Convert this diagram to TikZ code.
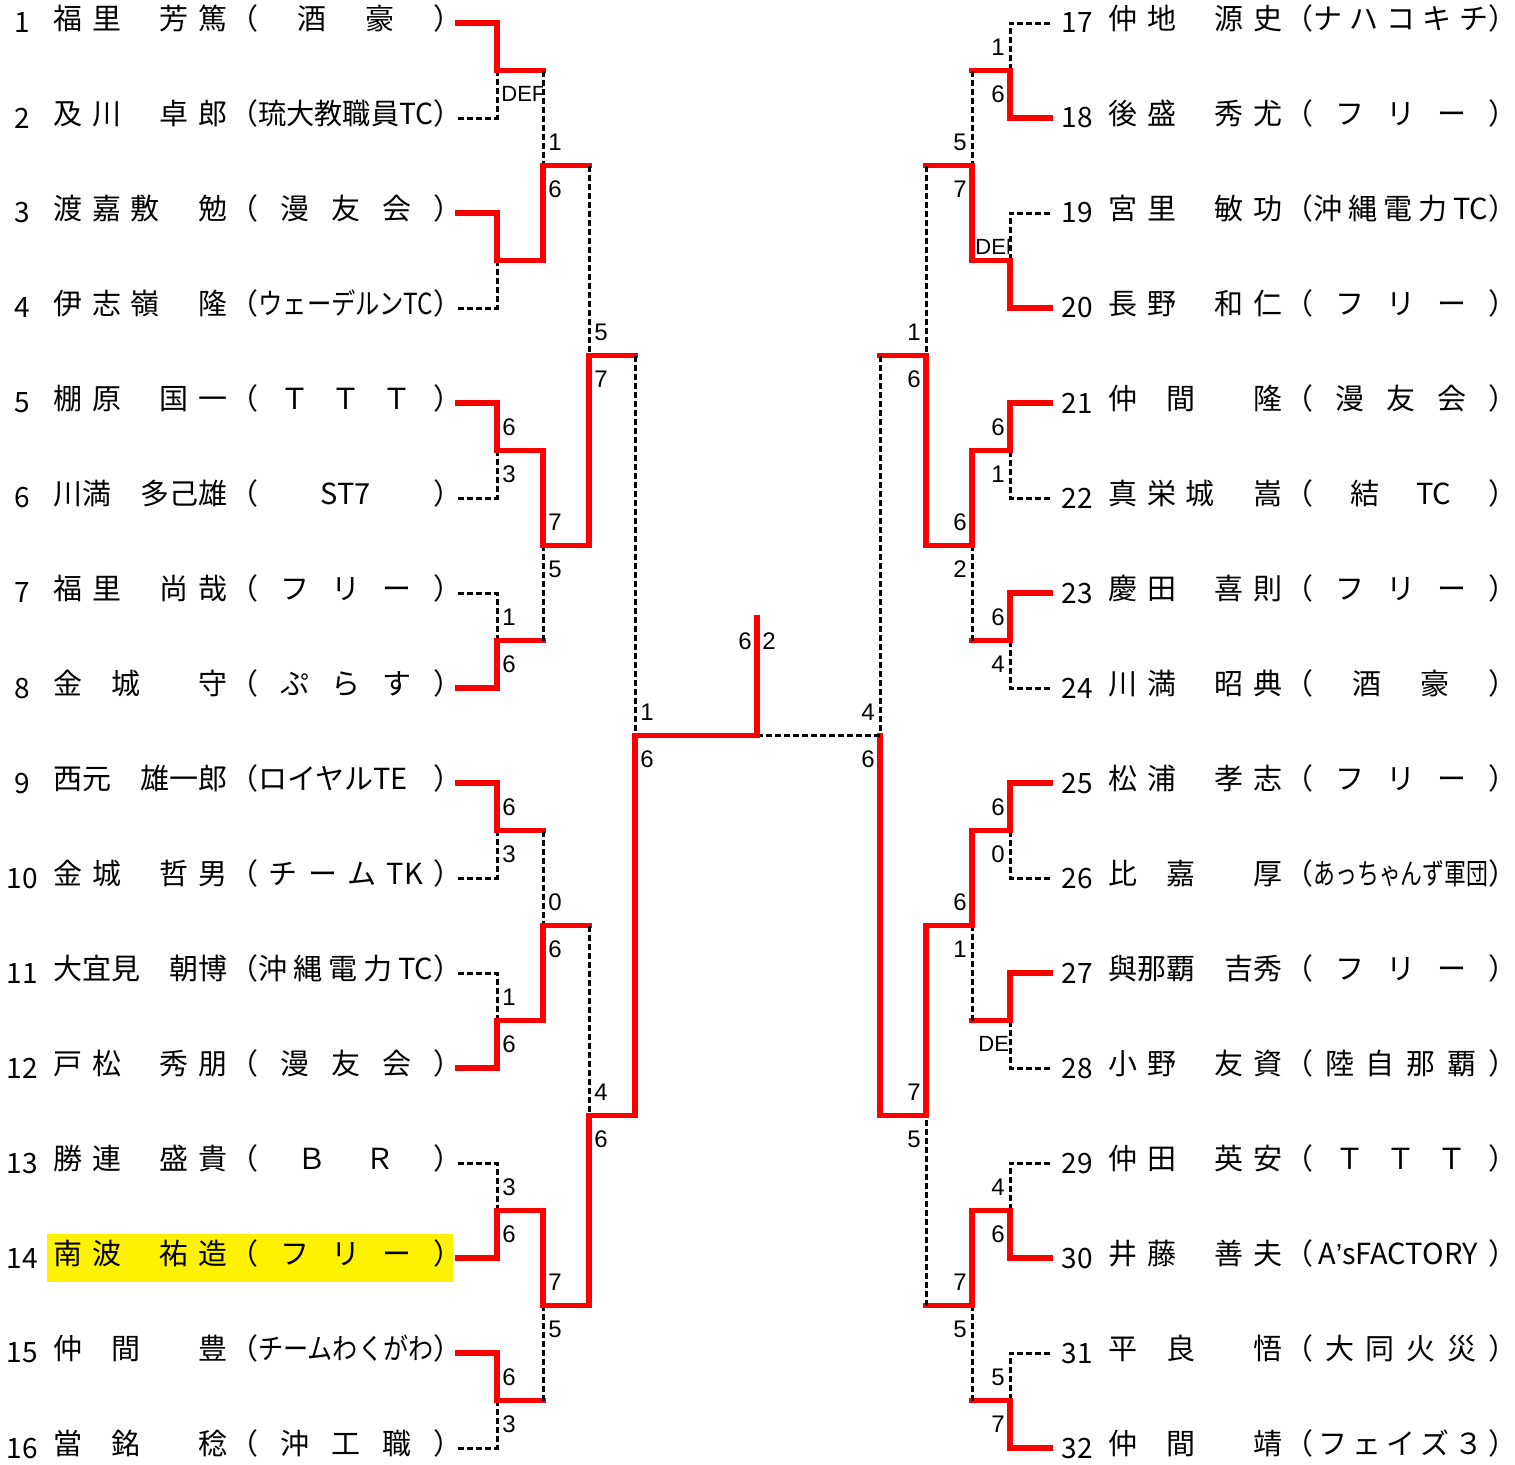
\documentclass[tikz,border=0pt]{standalone}
\usepackage{fontspec}
\usepackage{graphicx}
\setmainfont{Noto Sans CJK JP}
\newfontfamily\scorefont{Liberation Sans}

\newcommand\spr{\hfill}
\newcommand\sprw{\hspace{1em}\hfill}
\newcommand\squeeze[1]{\resizebox{87.5pt}{\height}{#1}}
\newcommand\scx{12}

\tikzset{
  win/.style={draw=red, line width=2.6pt, line cap=rect},
  lose/.style={draw=black, line width=1.5pt, dash pattern=on 3pt off 1.5pt},
  numtxt/.style={font=\fontsize{14}{14}\selectfont, inner sep=0pt},
  nametxt/.style={font=\fontsize{14.5}{14.5}\selectfont, inner sep=0pt, anchor=west, text height=0.82em, text depth=0.18em},
  sc/.style={font=\scorefont\fontsize{12}{12}\selectfont, inner sep=0pt},
  deftxt/.style={font=\scorefont\fontsize{11}{11}\selectfont, inner sep=0pt, anchor=west},
}

\newcommand\entrant[5]{%
  \node[numtxt] (no#1) at ({22+#2},{23+95*#3}) {#1};
  \node[nametxt] (nm#1) at ({53+#2},{23+95*#3}) {\makebox[87pt][s]{#4}};
  \node[nametxt] (cl#1) at ({229+#2},{23+95*#3}) {（\makebox[87.5pt][s]{#5}）};
}
\newcommand\firstbout[3]{\draw[lose] (#2) -| (#3); \draw[win] (#1) -| (#3);}
\newcommand\bout[3]{\draw[win] (#2) -- (#3 |- #2); \draw[lose] (#3 |- #2) -- (#3); \draw[win] (#1) -| (#3);}
\newcommand\scores[3]{%
  \if\relax\detokenize{#2}\relax\else\node[sc] (#1u) at ([shift={(\scx,-23)}]#1) {#2};\fi
  \if\relax\detokenize{#3}\relax\else\node[sc] (#1d) at ([shift={(\scx,24)}]#1) {#3};\fi}

\begin{document}
\begin{tikzpicture}[x=0.5pt,y=-0.5pt]
\useasboundingbox (0,0) rectangle (1515,1464);
\fill[yellow] (47,1234) rectangle (453,1282);

\entrant{1}{0}{0}{福\spr 里\sprw 芳\spr 篤}{\spr 酒\spr 豪\spr}
\entrant{2}{0}{1}{及\spr 川\sprw 卓\spr 郎}{\squeeze{琉大教職員TC}}
\entrant{3}{0}{2}{渡\spr 嘉\spr 敷\sprw 勉}{\spr 漫\spr 友\spr 会\spr}
\entrant{4}{0}{3}{伊\spr 志\spr 嶺\sprw 隆}{\squeeze{ウェーデルンTC}}
\entrant{5}{0}{4}{棚\spr 原\sprw 国\spr 一}{\spr Ｔ\spr Ｔ\spr Ｔ\spr}
\entrant{6}{0}{5}{川\spr 満\sprw 多\spr 己\spr 雄}{\spr ST7\spr}
\entrant{7}{0}{6}{福\spr 里\sprw 尚\spr 哉}{\spr フ\spr リ\spr ー\spr}
\entrant{8}{0}{7}{金\spr 城\sprw 守}{\spr ぷ\spr ら\spr す\spr}
\entrant{9}{0}{8}{西\spr 元\sprw 雄\spr 一\spr 郎}{ロイヤルTE\spr}
\entrant{10}{0}{9}{金\spr 城\sprw 哲\spr 男}{\spr チ\spr ー\spr ム\spr TK\spr}
\entrant{11}{0}{10}{大\spr 宜\spr 見\sprw 朝\spr 博}{沖\spr 縄\spr 電\spr 力\spr TC}
\entrant{12}{0}{11}{戸\spr 松\sprw 秀\spr 朋}{\spr 漫\spr 友\spr 会\spr}
\entrant{13}{0}{12}{勝\spr 連\sprw 盛\spr 貴}{\spr Ｂ\spr Ｒ\spr}
\entrant{14}{0}{13}{南\spr 波\sprw 祐\spr 造}{\spr フ\spr リ\spr ー\spr}
\entrant{15}{0}{14}{仲\spr 間\sprw 豊}{\squeeze{チームわくがわ}}
\entrant{16}{0}{15}{當\spr 銘\sprw 稔}{\spr 沖\spr 工\spr 職\spr}
\entrant{17}{1055}{0}{仲\spr 地\sprw 源\spr 史}{ナ\spr ハ\spr コ\spr キ\spr チ}
\entrant{18}{1055}{1}{後\spr 盛\sprw 秀\spr 尤}{\spr フ\spr リ\spr ー\spr}
\entrant{19}{1055}{2}{宮\spr 里\sprw 敏\spr 功}{沖\spr 縄\spr 電\spr 力\spr TC}
\entrant{20}{1055}{3}{長\spr 野\sprw 和\spr 仁}{\spr フ\spr リ\spr ー\spr}
\entrant{21}{1055}{4}{仲\spr 間\sprw 隆}{\spr 漫\spr 友\spr 会\spr}
\entrant{22}{1055}{5}{真\spr 栄\spr 城\sprw 嵩}{\spr 結\spr TC\spr}
\entrant{23}{1055}{6}{慶\spr 田\sprw 喜\spr 則}{\spr フ\spr リ\spr ー\spr}
\entrant{24}{1055}{7}{川\spr 満\sprw 昭\spr 典}{\spr 酒\spr 豪\spr}
\entrant{25}{1055}{8}{松\spr 浦\sprw 孝\spr 志}{\spr フ\spr リ\spr ー\spr}
\entrant{26}{1055}{9}{比\spr 嘉\sprw 厚}{\squeeze{あっちゃんず軍団}}
\entrant{27}{1055}{10}{與\spr 那\spr 覇\sprw 吉\spr 秀}{\spr フ\spr リ\spr ー\spr}
\entrant{28}{1055}{11}{小\spr 野\sprw 友\spr 資}{\spr 陸\spr 自\spr 那\spr 覇\spr}
\entrant{29}{1055}{12}{仲\spr 田\sprw 英\spr 安}{\spr Ｔ\spr Ｔ\spr Ｔ\spr}
\entrant{30}{1055}{13}{井\spr 藤\sprw 善\spr 夫}{\,A{\scorefont ’}sFACTORY\spr}
\entrant{31}{1055}{14}{平\spr 良\sprw 悟}{\spr 大\spr 同\spr 火\spr 災\spr}
\entrant{32}{1055}{15}{仲\spr 間\sprw 靖}{\spr フ\spr ェ\spr イ\spr ズ\spr ３\spr}

\foreach \i in {1,...,16} \coordinate (p\i) at (458,{23+95*(\i-1)});
\foreach \i in {17,...,32} \coordinate (p\i) at (1050,{23+95*(\i-17)});
\foreach \k in {1,...,8} {
  \coordinate (a\k) at (497,{70.5+190*(\k-1)});
  \coordinate (ra\k) at (1010,{70.5+190*(\k-1)});
}
\foreach \k in {1,...,4} {
  \coordinate (b\k) at (543,{165.5+380*(\k-1)});
  \coordinate (rb\k) at (972,{165.5+380*(\k-1)});
}
\foreach \k in {1,2} {
  \coordinate (c\k) at (589,{355.5+760*(\k-1)});
  \coordinate (rc\k) at (926,{355.5+760*(\k-1)});
}
\coordinate (d1) at (635,735.5);
\coordinate (rd1) at (880,735.5);
\coordinate (fin) at (757,735.5);
\coordinate (champ) at (757,618);

\firstbout{p1}{p2}{a1}
\firstbout{p3}{p4}{a2}
\firstbout{p5}{p6}{a3} \scores{a3}{6}{3}
\firstbout{p8}{p7}{a4} \scores{a4}{1}{6}
\firstbout{p9}{p10}{a5} \scores{a5}{6}{3}
\firstbout{p12}{p11}{a6} \scores{a6}{1}{6}
\firstbout{p14}{p13}{a7} \scores{a7}{3}{6}
\firstbout{p15}{p16}{a8} \scores{a8}{6}{3}
\bout{a2}{a1}{b1} \scores{b1}{1}{6}
\bout{a3}{a4}{b2} \scores{b2}{7}{5}
\bout{a6}{a5}{b3} \scores{b3}{0}{6}
\bout{a7}{a8}{b4} \scores{b4}{7}{5}
\bout{b2}{b1}{c1} \scores{c1}{5}{7}
\bout{b4}{b3}{c2} \scores{c2}{4}{6}
\bout{c2}{c1}{d1} \scores{d1}{1}{6}

\renewcommand\scx{-12}
\firstbout{p18}{p17}{ra1} \scores{ra1}{1}{6}
\firstbout{p20}{p19}{ra2}
\firstbout{p21}{p22}{ra3} \scores{ra3}{6}{1}
\firstbout{p23}{p24}{ra4} \scores{ra4}{6}{4}
\firstbout{p25}{p26}{ra5} \scores{ra5}{6}{0}
\firstbout{p27}{p28}{ra6}
\firstbout{p30}{p29}{ra7} \scores{ra7}{4}{6}
\firstbout{p32}{p31}{ra8} \scores{ra8}{5}{7}
\bout{ra2}{ra1}{rb1} \scores{rb1}{5}{7}
\bout{ra3}{ra4}{rb2} \scores{rb2}{6}{2}
\bout{ra5}{ra6}{rb3} \scores{rb3}{6}{1}
\bout{ra7}{ra8}{rb4} \scores{rb4}{7}{5}
\bout{rb2}{rb1}{rc1} \scores{rc1}{1}{6}
\bout{rb3}{rb4}{rc2} \scores{rc2}{7}{5}
\bout{rc2}{rc1}{rd1} \scores{rd1}{4}{6}

\draw[lose] (rd1) -- (fin);
\draw[win] (d1) -- (fin) -- (champ);
\node[sc] (fl) at ([shift={(-12,23)}]champ) {6};
\node[sc] (fr) at ([shift={(12,23)}]champ) {2};

\begin{scope}
\clip (499,80) rectangle (542,108);
\node[deftxt] (a1d) at (501,94) {DEF};
\end{scope}
\begin{scope}
\clip (970,233) rectangle (1008,262);
\node[deftxt] (ra2u) at (975,247) {DEF};
\end{scope}
\begin{scope}
\clip (970,1030) rectangle (1008,1060);
\node[deftxt] (ra6d) at (978,1044) {DEF};
\end{scope}
\end{tikzpicture}
\end{document}
